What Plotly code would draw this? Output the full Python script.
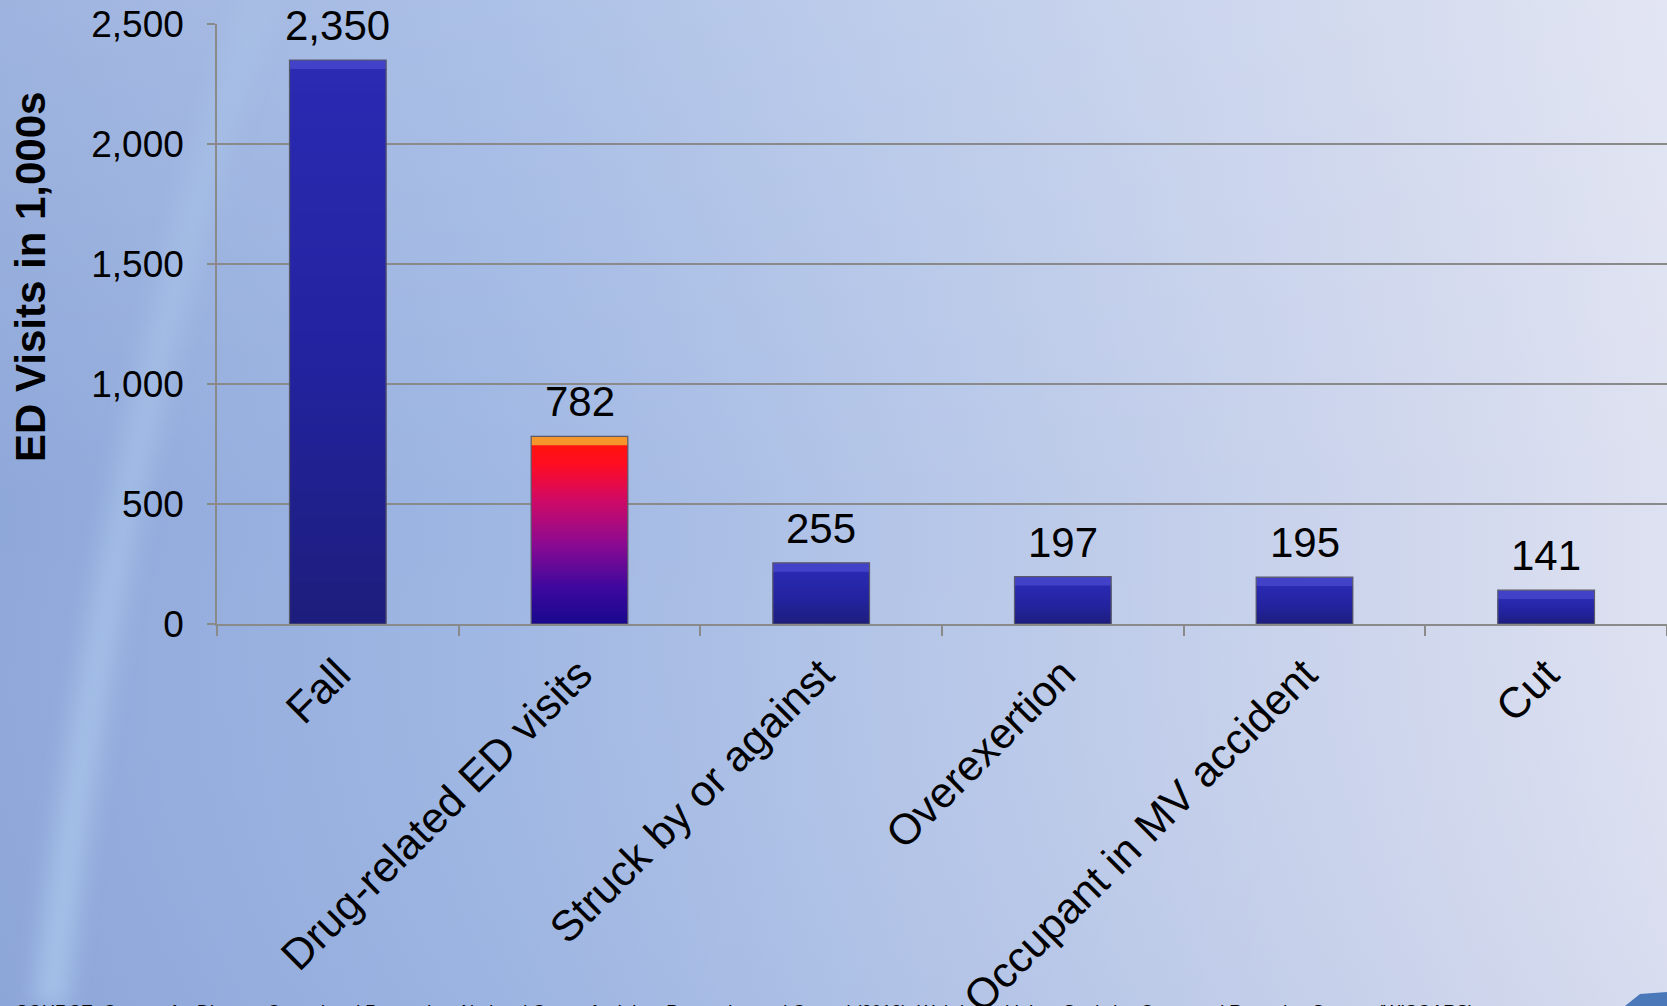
import plotly.graph_objects as go
import base64

categories = ["Fall", "Drug-related ED visits", "Struck by or against",
              "Overexertion", "Occupant in MV accident", "Cut"]
values = [2350, 782, 255, 197, 195, 141]
y_ticks = [0, 500, 1000, 1500, 2000, 2500]
y_title = "ED Visits in 1,000s"
source_text = ("SOURCE: Centers for Disease Control and Prevention, National Center for Injury "
               "Prevention and Control (2013). Web-based Injury Statistics Query and Reporting System (WISQARS).")

FONT = "Liberation Sans, Arial, sans-serif"
W, H = 1667, 1006
L, R, T, B = 217, 0, 24, 382
PW, PH = W - L - R, H - T - B

def hex2rgb(h):
    h = h.lstrip("#")
    return tuple(int(h[i:i + 2], 16) for i in (0, 2, 4))

def interp(stops, f):
    for (f0, c0), (f1, c1) in zip(stops, stops[1:]):
        if f0 <= f <= f1:
            t = 0 if f1 == f0 else (f - f0) / (f1 - f0)
            a, b = hex2rgb(c0), hex2rgb(c1)
            return "rgb(%d,%d,%d)" % tuple(round(a[k] + (b[k] - a[k]) * t) for k in range(3))
    return stops[-1][1]

blue_stops = [(0, "#1d1d7c"), (0.5, "#2323a0"), (1.0, "#2a2ab2")]
blue_bevel = "#4242c8"
drug_stops = [(0, "#18088c"), (0.2, "#3a089e"), (0.45, "#8a0a92"),
              (0.7, "#d00a66"), (0.9, "#ff0c22"), (1.0, "#ff1410")]
drug_bevel = "#f5952c"
bar_stops = [drug_stops if i == 1 else blue_stops for i in range(len(values))]
bevels = [drug_bevel if i == 1 else blue_bevel for i in range(len(values))]

N = 60
BEVEL_UNITS = 34
fig = go.Figure()
for s in range(N):
    ys, bases, cols = [], [], []
    for i, v in enumerate(values):
        body = v - BEVEL_UNITS
        seg = body / N
        lo, hi = s * seg, (s + 1) * seg
        mid = lo + seg / 2
        b0 = max(0.0, lo - seg * 0.6)
        ys.append(hi - b0)
        bases.append(b0)
        cols.append(interp(bar_stops[i], mid / body))
    fig.add_trace(go.Bar(x=categories, y=ys, base=bases, width=0.4,
                         marker=dict(color=cols, line=dict(width=0)),
                         hoverinfo="skip", showlegend=False))

# top bevel band
fig.add_trace(go.Bar(x=categories, y=[BEVEL_UNITS + 3] * len(values),
                     base=[v - BEVEL_UNITS - 3 for v in values], width=0.4,
                     marker=dict(color=bevels, line=dict(width=0)),
                     hoverinfo="skip", showlegend=False))

fig.add_trace(go.Bar(x=categories, y=values, width=0.4,
                     marker=dict(color="rgba(0,0,0,0)", line=dict(color="#5a5a6a", width=1.2)),
                     showlegend=False))

for c, v in zip(categories, values):
    fig.add_annotation(x=c, y=v, text=f"{v:,}", showarrow=False, yanchor="bottom",
                       yshift=9, font=dict(family=FONT, size=42, color="#000"))

fig.add_annotation(xref="paper", yref="paper", x=(30 - L) / PW, y=(624 - 277) / PH,
                   xanchor="center", yanchor="middle",
                   text=f"<b>{y_title}</b>", textangle=-90, showarrow=False,
                   font=dict(family=FONT, size=42, color="#000"))

fig.add_annotation(xref="paper", yref="paper", x=(14 - L) / PW, y=(H - B - 1000) / PH,
                   xanchor="left", yanchor="top", text=source_text, showarrow=False,
                   font=dict(family=FONT, size=18, color="#000"))

bg_svg = (
    "<svg xmlns='http://www.w3.org/2000/svg' width='1667' height='1006' viewBox='0 0 1667 1006' preserveAspectRatio='none'>"
    "<defs>"
    "<linearGradient id='g' x1='0' y1='0' x2='1' y2='0'>"
    "<stop offset='0' stop-color='#8fa8da'/>"
    "<stop offset='0.3' stop-color='#9fb7e3'/>"
    "<stop offset='0.55' stop-color='#b5c6e8'/>"
    "<stop offset='0.8' stop-color='#cbd4ec'/>"
    "<stop offset='1' stop-color='#dee1f1'/>"
    "</linearGradient>"
    "<linearGradient id='v' x1='0' y1='0' x2='0' y2='1'>"
    "<stop offset='0' stop-color='#ffffff' stop-opacity='0.14'/>"
    "<stop offset='0.5' stop-color='#ffffff' stop-opacity='0'/>"
    "<stop offset='1' stop-color='#6080c0' stop-opacity='0.05'/>"
    "</linearGradient>"
    "<linearGradient id='s' x1='0' y1='0' x2='0' y2='1'>"
    "<stop offset='0' stop-color='#b8d8f4' stop-opacity='0.12'/>"
    "<stop offset='0.5' stop-color='#b8d8f4' stop-opacity='0.35'/>"
    "<stop offset='1' stop-color='#b8d8f4' stop-opacity='0.5'/>"
    "</linearGradient>"
    "<filter id='b' filterUnits='userSpaceOnUse' x='-300' y='-300' width='2300' height='1700'>"
    "<feGaussianBlur stdDeviation='10'/></filter>"
    "</defs>"
    "<rect width='1667' height='1006' fill='url(#g)'/>"
    "<rect width='1667' height='1006' fill='url(#v)'/>"
    "<path d='M 260 0 Q 115 420 50 1006' stroke='url(#s)' stroke-width='34' fill='none' filter='url(#b)'/>"
    "<path d='M 1625 1006 L 1640 994 L 1667 992 L 1667 1006 Z' fill='#4a78b8'/>"
    "</svg>"
)
bg_uri = "data:image/svg+xml;base64," + base64.b64encode(bg_svg.encode()).decode()

fig.add_layout_image(dict(source=bg_uri, xref="paper", yref="paper",
                          x=-L / PW, y=1 + T / PH, sizex=W / PW, sizey=H / PH,
                          xanchor="left", yanchor="top", sizing="stretch", layer="below"))

fig.update_layout(
    width=W, height=H,
    margin=dict(l=L, r=R, t=T, b=B, pad=0),
    paper_bgcolor="#b0c0e4", plot_bgcolor="rgba(0,0,0,0)",
    barmode="overlay",
    font=dict(family=FONT, color="#000"),
    showlegend=False,
)
fig.update_xaxes(
    type="category", tickangle=-45, tickfont=dict(family=FONT, size=43, color="#000"),
    showline=True, linecolor="#8a8a8a", linewidth=1.5,
    ticks="outside", ticklen=10, tickcolor="#8a8a8a", tickwidth=1.5, tickson="boundaries",
    showgrid=False, automargin=False, ticklabelstandoff=6,
)
fig.update_yaxes(
    range=[0, 2500], tickvals=y_ticks, ticktext=[f"{t:,}" for t in y_ticks],
    tickfont=dict(family=FONT, size=37, color="#000"),
    showline=True, linecolor="#8a8a8a", linewidth=1.5,
    showgrid=True, gridcolor="#8a8a8a", gridwidth=1.5, zeroline=False,
    ticks="outside", ticklen=8, tickcolor="#8a8a8a", tickwidth=1.5,
    automargin=False, ticklabelstandoff=16,
)

fig.write_html("out.html")
